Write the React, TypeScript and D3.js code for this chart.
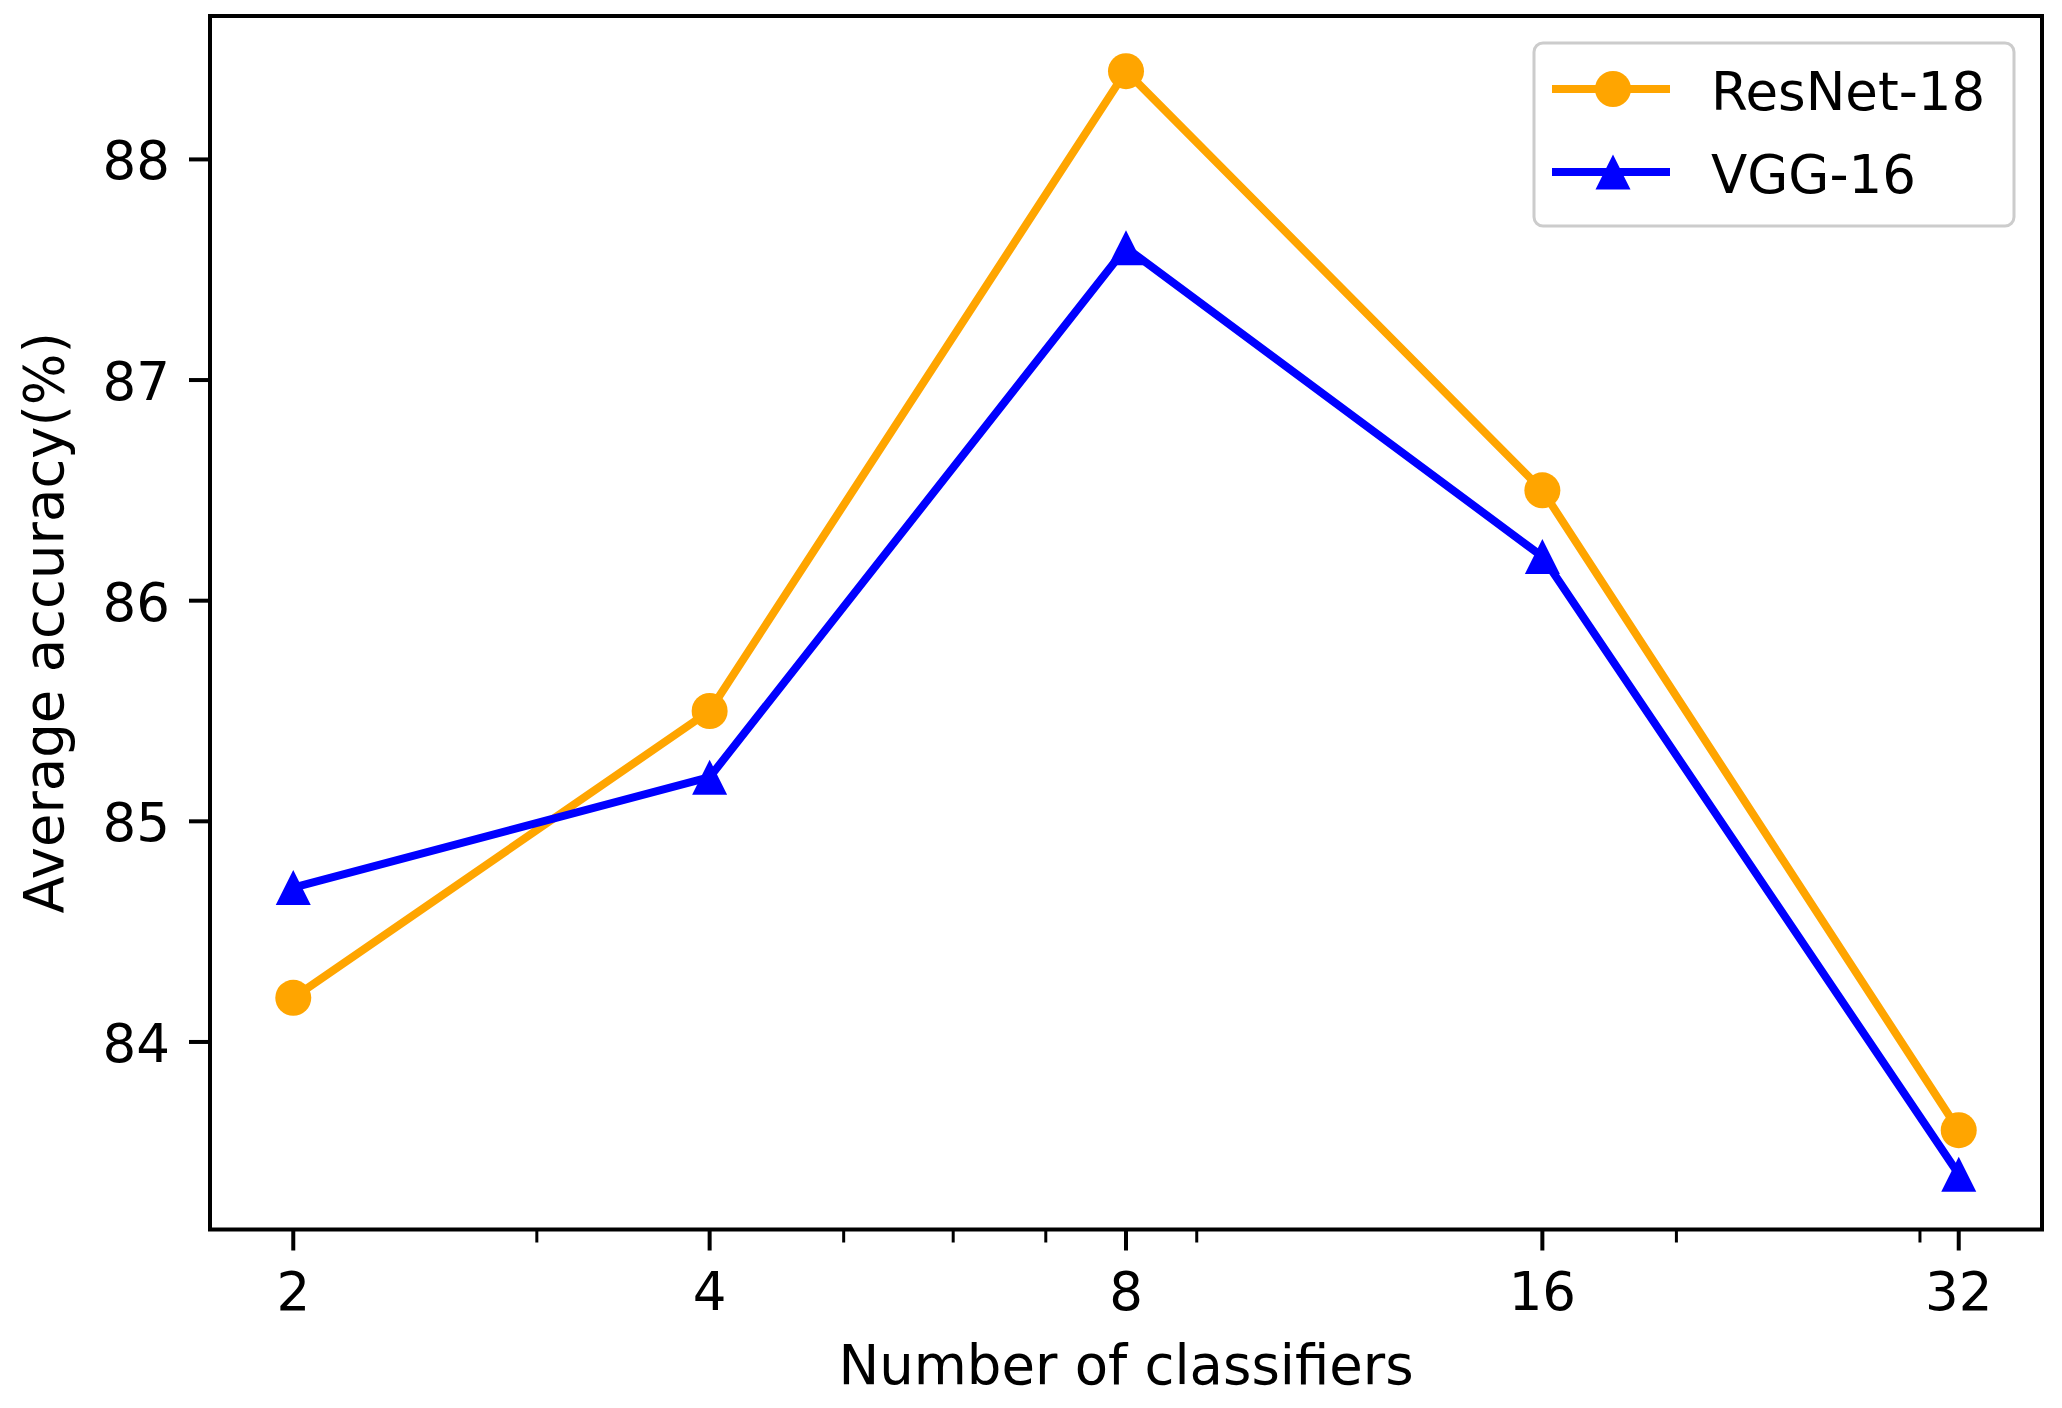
import React from "react";
import * as d3 from "d3";

const classifiers = [2, 4, 8, 16, 32];
const resnet18 = [84.2, 85.5, 88.4, 86.5, 83.6];
const vgg16 = [84.7, 85.2, 87.6, 86.2, 83.4];
const xTicks = [2, 4, 8, 16, 32];
const xMinorTicks = [3, 5, 6, 7, 9, 20, 30];
const yTicks = [84, 85, 86, 87, 88];
const seriesNames = ["ResNet-18", "VGG-16"];

const W = 2062;
const H = 1408;
const L = 210, R = 2042, T = 16, B = 1229.5;
const FONT = "'DejaVu Sans', sans-serif";
const FS = 53;
const FS_LABEL = 54.5;
const ORANGE = "#FFA500";
const BLUE = "#0000FF";

export default function App() {
  const lx0 = Math.log2(2), lx1 = Math.log2(32);
  const mx = (lx1 - lx0) * 0.05;
  const x = d3.scaleLog().base(2).domain([Math.pow(2, lx0 - mx), Math.pow(2, lx1 + mx)]).range([L, R]);
  const all = [...resnet18, ...vgg16];
  const ymin = d3.min(all)!, ymax = d3.max(all)!;
  const my = (ymax - ymin) * 0.05;
  const y = d3.scaleLinear().domain([ymin - my, ymax + my]).range([B, T]);

  const line = d3.line<[number, number]>().x(d => x(d[0])).y(d => y(d[1]));
  const rData: [number, number][] = classifiers.map((c, i) => [c, resnet18[i]]);
  const vData: [number, number][] = classifiers.map((c, i) => [c, vgg16[i]]);

  const tri = (cx: number, cy: number, s = 17.5) =>
    `M${cx},${cy - s}L${cx + s},${cy + s}L${cx - s},${cy + s}Z`;

  const lw = 8;
  const legX = 1534, legY = 43, legW = 480, legH = 183;
  const row1 = 89, row2 = 172;

  return (
    <svg width={W} height={H} style={{ position: "absolute", left: 0, top: 0, background: "#fff" }}
      fontFamily={FONT}>
      <rect x={0} y={0} width={W} height={H} fill="#fff" />
      {/* lines */}
      <path d={line(rData)!} fill="none" stroke={ORANGE} strokeWidth={lw} strokeLinejoin="round" />
      {rData.map((d, i) => (
        <circle key={"r" + i} cx={x(d[0])} cy={y(d[1])} r={18} fill={ORANGE} />
      ))}
      <path d={line(vData)!} fill="none" stroke={BLUE} strokeWidth={lw} strokeLinejoin="round" />
      {vData.map((d, i) => (
        <path key={"v" + i} d={tri(x(d[0]), y(d[1]))} fill={BLUE} />
      ))}

      {/* spines */}
      <rect x={L} y={T} width={R - L} height={B - T} fill="none" stroke="#000" strokeWidth={4} />

      {/* x ticks */}
      {xTicks.map(t => (
        <g key={"xt" + t}>
          <line x1={x(t)} x2={x(t)} y1={B} y2={B + 21} stroke="#000" strokeWidth={4} />
          <text x={x(t)} y={1310} fontSize={FS} textAnchor="middle" fill="#000">{t}</text>
        </g>
      ))}
      {xMinorTicks.map(t => (
        <line key={"xm" + t} x1={x(t)} x2={x(t)} y1={B} y2={B + 13} stroke="#000" strokeWidth={3} />
      ))}
      {/* y ticks */}
      {yTicks.map(t => (
        <g key={"yt" + t}>
          <line x1={L - 21} x2={L} y1={y(t)} y2={y(t)} stroke="#000" strokeWidth={4} />
          <text x={170} y={y(t) + 20} fontSize={FS} textAnchor="end" fill="#000">{t}</text>
        </g>
      ))}

      {/* axis labels */}
      <text x={(L + R) / 2} y={1384} fontSize={FS_LABEL} textAnchor="middle" fill="#000">Number of classifiers</text>
      <text transform={`translate(63,${(T + B) / 2}) rotate(-90)`} fontSize={FS_LABEL} textAnchor="middle" fill="#000">
        Average accuracy(%)
      </text>

      {/* legend */}
      <rect x={legX} y={legY} width={legW} height={legH} rx={9} fill="#fff" fillOpacity={0.8}
        stroke="#cccccc" strokeWidth={3} />
      <line x1={1552} x2={1670} y1={row1} y2={row1} stroke={ORANGE} strokeWidth={lw} />
      <circle cx={1613} cy={row1} r={18} fill={ORANGE} />
      <text x={1711} y={row1 + 21} fontSize={FS} fill="#000">{seriesNames[0]}</text>
      <line x1={1552} x2={1670} y1={row2} y2={row2} stroke={BLUE} strokeWidth={lw} />
      <path d={tri(1613, row2)} fill={BLUE} />
      <text x={1711} y={row2 + 21} fontSize={FS} fill="#000">{seriesNames[1]}</text>
    </svg>
  );
}
